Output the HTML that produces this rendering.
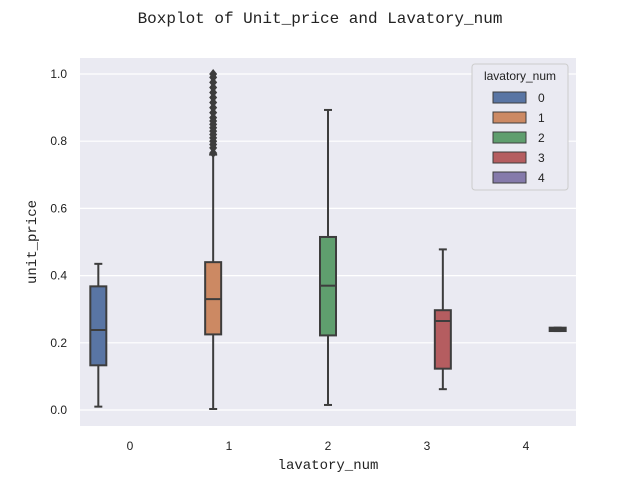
<!DOCTYPE html>
<html><head><meta charset="utf-8"><style>
body{margin:0;background:#fff;}
svg text{font-family:"Liberation Sans","Noto Sans CJK SC",sans-serif;}
</style></head><body>
<svg id="chart" width="640" height="480" xmlns="http://www.w3.org/2000/svg">
<text x="320" y="23" text-anchor="middle" font-size="16" fill="#222" style="font-family:'Liberation Mono',monospace">Boxplot of Unit_price and Lavatory_num</text>
<rect x="80" y="58" width="496" height="368" fill="#eaeaf2"/>
<g id="grid"></g><g id="boxes"></g><g id="axes"></g>
<text x="328" y="469" text-anchor="middle" font-size="14" fill="#222" style="font-family:'Liberation Mono',monospace">lavatory_num</text>
<text transform="translate(36,242) rotate(-90)" text-anchor="middle" font-size="14" fill="#222" style="font-family:'Liberation Mono',monospace">unit_price</text>
<g id="legend"></g>
</svg>
<script>
const categories=["0","1","2","3","4"];
const colors=["#5975a4","#cc8963","#5f9e6e","#b55d60","#857aab"];
const whiskLow=[0.01,0.003,0.015,0.062,0.235];
const q1=[0.133,0.225,0.222,0.123,0.235];
const medians=[0.238,0.33,0.37,0.265,0.24];
const q3=[0.368,0.44,0.515,0.297,0.245];
const whiskHigh=[0.435,0.76,0.893,0.478,0.245];
const fliers1=[0.765,0.78,0.79,0.8,0.81,0.82,0.83,0.84,0.85,0.86,0.87,0.885,0.9,0.915,0.93,0.945,0.96,0.975,0.99,1.0];
const yTicks=[0,0.2,0.4,0.6,0.8,1.0];
const NS="http://www.w3.org/2000/svg";
const y=v=>410-v*336;
const xc=i=>130+i*99;
const hx=(c,h)=>xc(c)+(h-2)*0.16*99;
function mk(tag,attrs,parent){const e=document.createElementNS(NS,tag);for(const k in attrs)e.setAttribute(k,attrs[k]);parent.appendChild(e);return e;}
const grid=document.getElementById('grid'),axes=document.getElementById('axes'),boxes=document.getElementById('boxes');
yTicks.forEach(t=>{
 const l=mk('line',{x1:80,x2:576,y1:y(t),y2:y(t),stroke:'#fff','stroke-width':1.2},grid);
 
 
 const tx=mk('text',{x:67,y:y(t)+4,'text-anchor':'end','font-size':12,fill:'#222'},axes);
 tx.textContent=t.toFixed(1);
 
 
});
categories.forEach((c,i)=>{
 const tx=mk('text',{x:xc(i),y:450,'text-anchor':'middle','font-size':12,fill:'#222'},axes);
 tx.textContent=c;
 
 
});
const g3='#3d3d3d';
categories.forEach((c,i)=>{
 const cx=hx(i,i),w=16;
 const g=mk('g',{},boxes);
 
 
 mk('line',{x1:cx,x2:cx,y1:y(whiskLow[i]),y2:y(q1[i]),stroke:g3,'stroke-width':2},g);
 mk('line',{x1:cx,x2:cx,y1:y(q3[i]),y2:y(whiskHigh[i]),stroke:g3,'stroke-width':2},g);
 mk('line',{x1:cx-w/4,x2:cx+w/4,y1:y(whiskLow[i]),y2:y(whiskLow[i]),stroke:g3,'stroke-width':2},g);
 mk('line',{x1:cx-w/4,x2:cx+w/4,y1:y(whiskHigh[i]),y2:y(whiskHigh[i]),stroke:g3,'stroke-width':2},g);
 mk('rect',{x:cx-w/2,y:y(q3[i]),width:w,height:Math.max(y(q1[i])-y(q3[i]),2),fill:colors[i],stroke:g3,'stroke-width':2},g);
 mk('line',{x1:cx-w/2,x2:cx+w/2,y1:y(medians[i]),y2:y(medians[i]),stroke:g3,'stroke-width':2},g);
});
fliers1.forEach(v=>{
 const cx=hx(1,1),cy=y(v);
 const p=mk('polygon',{points:`${cx},${cy-5} ${cx+4},${cy} ${cx},${cy+5} ${cx-4},${cy}`,fill:g3},boxes);
 
 
});
const lg=document.getElementById('legend');
mk('rect',{x:472,y:64,width:96,height:126,rx:3,fill:'#eaeaf2',stroke:'#ccc'},lg);
const lt=mk('text',{x:520,y:80,'text-anchor':'middle','font-size':12,fill:'#222'},lg);
lt.textContent='lavatory_num';
categories.forEach((c,i)=>{
 const e=mk('g',{},lg);
 
 
 const yy=97+i*20;
 mk('rect',{x:493,y:yy-5,width:33,height:11,fill:colors[i],stroke:g3,'stroke-width':1},e);
 const t=mk('text',{x:538,y:yy+5,'font-size':12,fill:'#222'},e);
 t.textContent=c;
});
</script>
</body></html>
